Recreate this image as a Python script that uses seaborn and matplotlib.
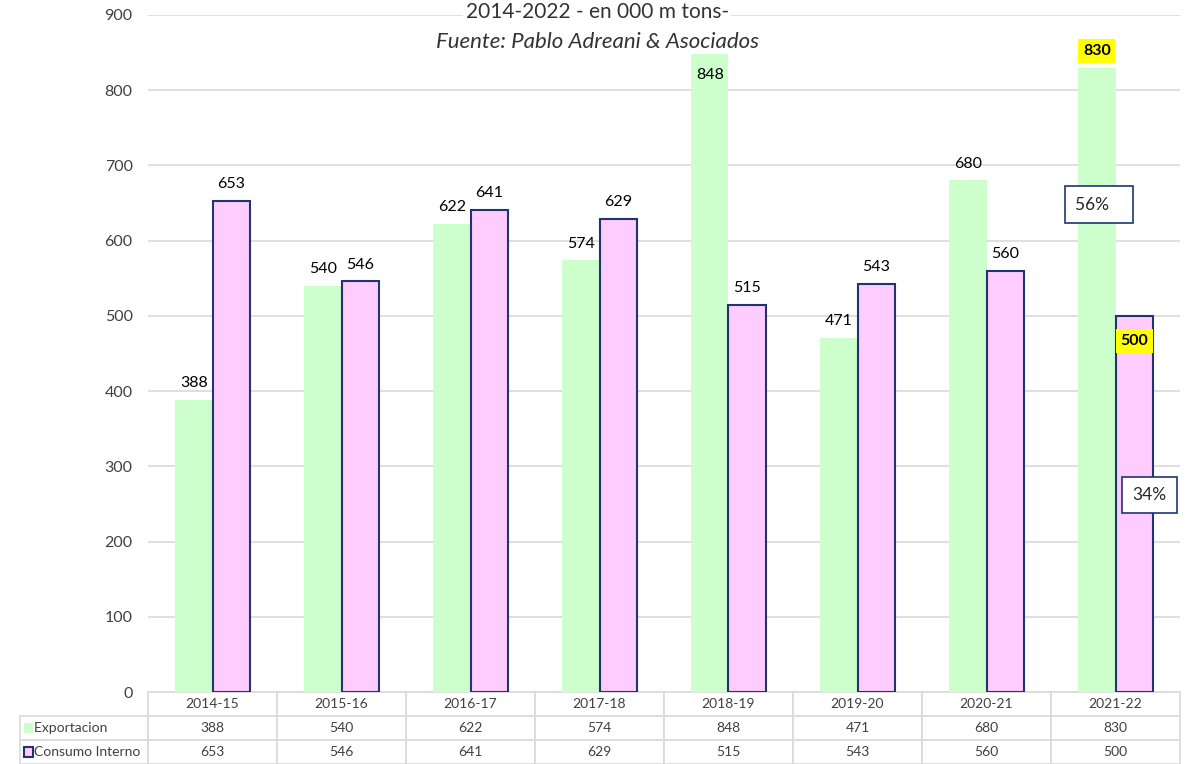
import pandas as pd
import matplotlib.pyplot as plt
import seaborn as sns
from matplotlib.patches import Rectangle

# Data
campaigns = ['2014-15', '2015-16', '2016-17', '2017-18', '2018-19', '2019-20', '2020-21', '2021-22']
exportacion = [388, 540, 622, 574, 848, 471, 680, 830]
consumo_interno = [653, 546, 641, 629, 515, 543, 560, 500]
series_names = ['Exportacion', 'Consumo Interno']
share_labels = ['56%', '34%']

GREEN = '#CCFFCC'
PINK = '#FFCCFF'
NAVY = '#1F3470'
GRID = '#D9D9D9'
TXT = '#404040'

sns.set_theme(style='white')
plt.rcParams['font.family'] = ['Lato', 'DejaVu Sans']

df = pd.DataFrame({
    'Campaña': campaigns * 2,
    'Serie': [series_names[0]] * len(campaigns) + [series_names[1]] * len(campaigns),
    'Valor': exportacion + consumo_interno,
})

fig = plt.figure(figsize=(11.99, 7.64), dpi=100)
ax = fig.add_axes([148 / 1199, 72 / 764, 1032 / 1199, 677 / 764])

sns.barplot(data=df, x='Campaña', y='Valor', hue='Serie', hue_order=series_names,
            palette=[GREEN, PINK], width=0.58, ax=ax, legend=False, saturation=1)

n = len(campaigns)
bars = ax.patches
for b in bars[:n]:
    b.set_edgecolor('none')
    b.set_zorder(2)
for b in bars[n:]:
    b.set_edgecolor(NAVY)
    b.set_linewidth(1.5)
    b.set_zorder(2)

ax.set_ylim(0, 900)
ax.set_yticks(range(0, 901, 100))
ax.yaxis.grid(True, color=GRID, linewidth=1.2)
ax.set_axisbelow(True)
ax.set_xlabel('')
ax.set_ylabel('')
ax.set_xticks([])
ax.tick_params(axis='y', length=0, labelsize=11.5, labelcolor=TXT, pad=11)
for s in ax.spines.values():
    s.set_visible(False)

# value labels
for i, b in enumerate(bars):
    v = int(round(b.get_height()))
    xc = b.get_x() + b.get_width() / 2
    last = (i % n) == n - 1
    if v > 840:
        ax.annotate(f'{v}', (xc, v), xytext=(0, -10), textcoords='offset points',
                    ha='center', va='top', fontsize=11.5, color='black')
    elif last and i < n:
        ax.annotate(f'{v}', (xc, v), xytext=(0, 7), textcoords='offset points',
                    ha='center', va='bottom', fontsize=11.5, fontweight='bold', color='black',
                    bbox=dict(boxstyle='square,pad=0.3', fc='#FFFF00', ec='none'))
    elif last:
        ax.annotate(f'{v}', (xc, v), xytext=(0, -13), textcoords='offset points',
                    ha='center', va='top', fontsize=11.5, fontweight='bold', color='black',
                    bbox=dict(boxstyle='square,pad=0.3', fc='#FFFF00', ec='none'))
    else:
        ax.annotate(f'{v}', (xc, v), xytext=(0, 7), textcoords='offset points',
                    ha='center', va='bottom', fontsize=11.5, color='black')

# share boxes on the last campaign
ax.text(n - 1 - 0.13, 648, share_labels[0] + '   ', ha='center', va='center', fontsize=12.5,
        color='#262626', zorder=5,
        bbox=dict(boxstyle='square,pad=0.6', fc='white', ec=NAVY, lw=1.2))
ax.text(n - 1 + 0.26, 262, share_labels[1], ha='center', va='center', fontsize=12.5,
        color='#262626', zorder=5,
        bbox=dict(boxstyle='square,pad=0.6', fc='white', ec=NAVY, lw=1.2))

# data table under the chart (first column holds the series names)
row_w = 128 / 1032
cell_text = [['    ' + series_names[0]] + [str(v) for v in exportacion],
             ['    ' + series_names[1]] + [str(v) for v in consumo_interno]]
tab = ax.table(cellText=cell_text, colLabels=[''] + campaigns, cellLoc='center',
               bbox=[-row_w, -72 / 677, 1 + row_w, 72 / 677])
tab.auto_set_font_size(False)
tab.set_fontsize(10)
for (r, c), cell in tab.get_celld().items():
    cell.set_edgecolor(GRID)
    cell.set_linewidth(1.2)
    cell.get_text().set_color(TXT)
    if c == 0:
        cell.set_width(row_w)
        cell._loc = 'left'
        cell.get_text().set_ha('left')
        cell.PAD = 0.0
    else:
        cell.set_width(1 / n)
    if r == 0 and c == 0:
        cell.set_visible(False)

# legend keys in row labels
fig.add_artist(Rectangle((24 / 1199, (764 - 733) / 764), 9 / 1199, 10 / 764,
                         transform=fig.transFigure, fc=GREEN, ec='none'))
fig.add_artist(Rectangle((24 / 1199, (764 - 757) / 764), 9 / 1199, 10 / 764,
                         transform=fig.transFigure, fc=PINK, ec=NAVY, lw=1.5))

# titles
fig.text(0.498, 1 - 12 / 764, '2014-2022 - en 000 m tons-', ha='center', va='center',
         fontsize=15, color='#333333', zorder=10,
         bbox=dict(boxstyle='square,pad=0.1', fc='white', ec='none'))
fig.text(0.498, 1 - 42 / 764, 'Fuente: Pablo Adreani & Asociados', ha='center', va='center',
         fontsize=16, style='italic', color='#333333')

fig.savefig('out.png', dpi=100)
